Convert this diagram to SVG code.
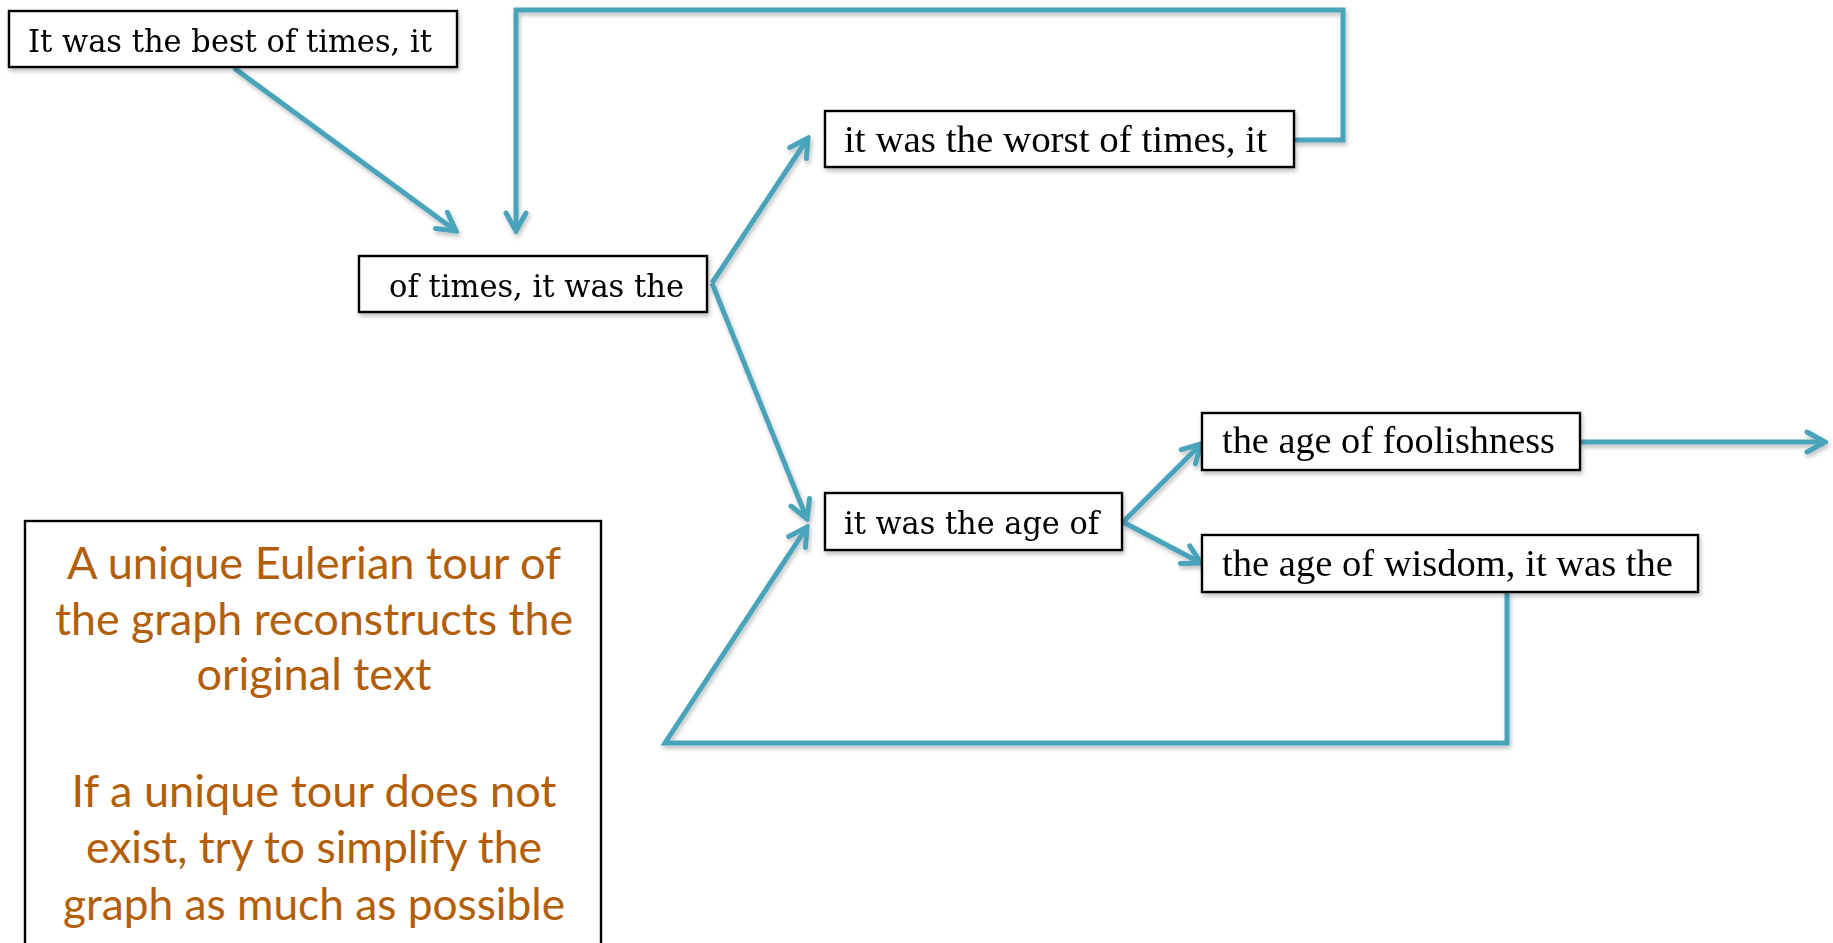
<svg xmlns="http://www.w3.org/2000/svg" width="1833" height="943" viewBox="0 0 1833 943">
<style>
.box{fill:#ffffff;stroke:#000000;stroke-width:2.4}
.t1{font-family:"DejaVu Serif","Liberation Serif",serif;font-size:31px;fill:#000}
.t2{font-family:"Liberation Serif","Times New Roman",serif;font-size:37px;fill:#000}
.leg{font-family:Lato,"Open Sans",sans-serif;font-size:45px;fill:#B35E09;text-anchor:middle}
.con{fill:none;stroke:#4AA4BB;stroke-width:5;stroke-linejoin:miter;stroke-linecap:butt}
</style>
<defs>
<filter id="sh" x="-5%" y="-5%" width="110%" height="130%">
<feDropShadow dx="1.5" dy="3" stdDeviation="2" flood-color="#000" flood-opacity="0.25"/>
</filter>
<marker id="ah" markerUnits="userSpaceOnUse" markerWidth="26" markerHeight="26" viewBox="0 0 26 26" refX="23" refY="13" orient="auto">
<path d="M5,3 L23,13 L5,23" fill="none" stroke="#4AA4BB" stroke-width="5" stroke-linecap="round" stroke-linejoin="miter"/>
</marker>
</defs>
<rect width="1833" height="943" fill="#ffffff"/>
<g id="connectors" filter="url(#sh)">
<path class="con" d="M234,68 L456,231" marker-end="url(#ah)"/>
<path class="con" d="M1294,140 L1343,140 L1343,10 L516,10 L516,231" marker-end="url(#ah)"/>
<path class="con" d="M712,283 L808,138" marker-end="url(#ah)"/>
<path class="con" d="M712,283 L807,519" marker-end="url(#ah)"/>
<path class="con" d="M1507,593 L1507,743 L665,743 L807,527" marker-end="url(#ah)"/>
<path class="con" d="M1123,522 L1201,444" marker-end="url(#ah)"/>
<path class="con" d="M1123,522 L1201,563" marker-end="url(#ah)"/>
<path class="con" d="M1581,442 L1825,442" marker-end="url(#ah)"/>
</g>
<g id="n1" filter="url(#sh)">
<rect class="box" x="9" y="11" width="448" height="56"/>
<text class="t1" x="28" y="52" textLength="404" lengthAdjust="spacingAndGlyphs">It was the best of times, it</text>
</g>
<g id="n2" filter="url(#sh)">
<rect class="box" x="359" y="256" width="348" height="56"/>
<text class="t1" x="389" y="296.5" textLength="295" lengthAdjust="spacingAndGlyphs">of times, it was the</text>
</g>
<g id="n3" filter="url(#sh)">
<rect class="box" x="825" y="111" width="469" height="56"/>
<text class="t2" x="844" y="152" textLength="423" lengthAdjust="spacingAndGlyphs">it was the worst of times, it</text>
</g>
<g id="n4" filter="url(#sh)">
<rect class="box" x="825" y="493" width="297" height="57"/>
<text class="t1" x="844" y="534" textLength="255" lengthAdjust="spacingAndGlyphs">it was the age of</text>
</g>
<g id="n5" filter="url(#sh)">
<rect class="box" x="1202" y="413" width="378" height="57"/>
<text class="t2" x="1222" y="453" textLength="333" lengthAdjust="spacingAndGlyphs">the age of foolishness</text>
</g>
<g id="n6" filter="url(#sh)">
<rect class="box" x="1202" y="535" width="496" height="57"/>
<text class="t2" x="1222" y="576" textLength="451" lengthAdjust="spacingAndGlyphs">the age of wisdom, it was the</text>
</g>
<g id="legend">
<rect x="25" y="521" width="576" height="440" fill="#ffffff" stroke="#000" stroke-width="2.4"/>
<text class="leg" x="314" y="579" textLength="494" lengthAdjust="spacingAndGlyphs">A unique Eulerian tour of</text>
<text class="leg" x="314" y="635" textLength="518" lengthAdjust="spacingAndGlyphs">the graph reconstructs the</text>
<text class="leg" x="314" y="690" textLength="235" lengthAdjust="spacingAndGlyphs">original text</text>
<text class="leg" x="314" y="807" textLength="485" lengthAdjust="spacingAndGlyphs">If a unique tour does not</text>
<text class="leg" x="314" y="863" textLength="456" lengthAdjust="spacingAndGlyphs">exist, try to simplify the</text>
<text class="leg" x="314" y="920" textLength="502" lengthAdjust="spacingAndGlyphs">graph as much as possible</text>
</g>
</svg>
